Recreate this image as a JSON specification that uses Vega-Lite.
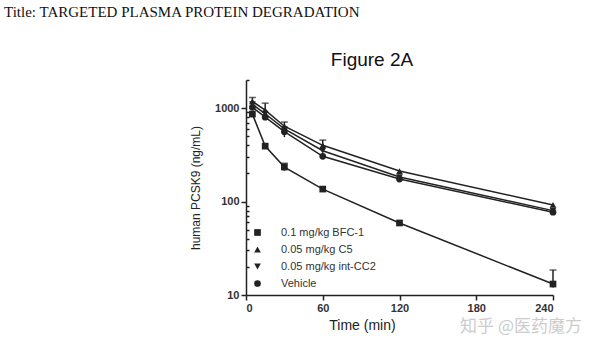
{
  "$schema": "https://vega.github.io/schema/vega-lite/v6.json",
  "width": 307,
  "height": 215,
  "autosize": {"type": "none"},
  "padding": {"left": 246, "top": 80, "right": 47, "bottom": 54},
  "background": "white",
  "title": {
    "text": "Title: TARGETED PLASMA PROTEIN DEGRADATION",
    "anchor": "start",
    "frame": "group",
    "dx": -242,
    "offset": 31,
    "font": "Liberation Serif",
    "fontSize": 15,
    "fontWeight": "normal",
    "color": "#111"
  },
  "config": {
    "view": {"stroke": null},
    "axis": {
      "grid": false,
      "domainColor": "#222",
      "domainWidth": 1.5,
      "tickColor": "#222",
      "tickWidth": 1.5,
      "labelFont": "Liberation Sans",
      "labelFontSize": 11,
      "labelFontWeight": "bold",
      "labelColor": "#333",
      "titleFont": "Liberation Sans",
      "titleColor": "#222",
      "titleFontWeight": "normal"
    },
    "legend": {
      "labelFont": "Liberation Sans",
      "labelFontSize": 11,
      "labelColor": "#333"
    }
  },
  "datasets": {
    "pk": [
      {"series": "0.1 mg/kg BFC-1", "t": 5, "v": 863},
      {"series": "0.1 mg/kg BFC-1", "t": 15, "v": 392},
      {"series": "0.1 mg/kg BFC-1", "t": 30, "v": 234},
      {"series": "0.1 mg/kg BFC-1", "t": 60, "v": 136},
      {"series": "0.1 mg/kg BFC-1", "t": 120, "v": 59},
      {"series": "0.1 mg/kg BFC-1", "t": 240, "v": 13.1},
      {"series": "0.05 mg/kg C5", "t": 5, "v": 1180},
      {"series": "0.05 mg/kg C5", "t": 15, "v": 950},
      {"series": "0.05 mg/kg C5", "t": 30, "v": 640},
      {"series": "0.05 mg/kg C5", "t": 60, "v": 400},
      {"series": "0.05 mg/kg C5", "t": 120, "v": 212},
      {"series": "0.05 mg/kg C5", "t": 240, "v": 92},
      {"series": "0.05 mg/kg int-CC2", "t": 5, "v": 1100},
      {"series": "0.05 mg/kg int-CC2", "t": 15, "v": 870},
      {"series": "0.05 mg/kg int-CC2", "t": 30, "v": 600},
      {"series": "0.05 mg/kg int-CC2", "t": 60, "v": 350},
      {"series": "0.05 mg/kg int-CC2", "t": 120, "v": 183},
      {"series": "0.05 mg/kg int-CC2", "t": 240, "v": 80},
      {"series": "Vehicle", "t": 5, "v": 1020},
      {"series": "Vehicle", "t": 15, "v": 800},
      {"series": "Vehicle", "t": 30, "v": 560},
      {"series": "Vehicle", "t": 60, "v": 305},
      {"series": "Vehicle", "t": 120, "v": 174},
      {"series": "Vehicle", "t": 240, "v": 77}
    ],
    "err": [
      {"series": "0.1 mg/kg BFC-1", "t": 30, "lo": 214, "hi": 257},
      {"series": "0.1 mg/kg BFC-1", "t": 240, "lo": 12, "hi": 18.5},
      {"series": "0.05 mg/kg C5", "t": 5, "lo": 1060, "hi": 1300},
      {"series": "0.05 mg/kg C5", "t": 15, "lo": 800, "hi": 1130},
      {"series": "0.05 mg/kg int-CC2", "t": 30, "lo": 490, "hi": 710},
      {"series": "0.05 mg/kg C5", "t": 60, "lo": 350, "hi": 455}
    ],
    "notes": [
      {"label": "Figure 2A", "t": 98.5, "v": 2000},
      {"label": "知乎 @医药魔方", "t": 215, "v": 10}
    ]
  },
  "layer": [
    {
      "data": {"name": "err"},
      "mark": {"type": "rule", "color": "#222", "strokeWidth": 1.5},
      "encoding": {
        "x": {"field": "t", "type": "quantitative"},
        "y": {"field": "lo", "type": "quantitative"},
        "y2": {"field": "hi"}
      }
    },
    {
      "data": {"name": "err"},
      "mark": {"type": "tick", "orient": "horizontal", "color": "#222", "size": 7, "thickness": 1.5},
      "encoding": {
        "x": {"field": "t", "type": "quantitative"},
        "y": {"field": "hi", "type": "quantitative"}
      }
    },
    {
      "data": {"name": "pk"},
      "mark": {"type": "line", "color": "#222", "strokeWidth": 1.5},
      "encoding": {
        "x": {"field": "t", "type": "quantitative"},
        "y": {"field": "v", "type": "quantitative"},
        "detail": {"field": "series"}
      }
    },
    {
      "data": {"name": "pk"},
      "mark": {"type": "point", "filled": true, "opacity": 1, "size": 45},
      "encoding": {
        "x": {
          "field": "t",
          "type": "quantitative",
          "scale": {"domain": [0, 240], "nice": false, "zero": false},
          "axis": {
            "values": [0, 60, 120, 180, 240],
            "title": "Time (min)",
            "titleFontSize": 14,
            "titleX": 116,
            "titleY": 23,
            "titleAnchor": "middle",
            "tickSize": 5,
            "labelPadding": 2
          }
        },
        "y": {
          "field": "v",
          "type": "quantitative",
          "scale": {"type": "log", "domain": [10, 2000], "nice": false},
          "axis": {
            "values": [10, 20, 30, 40, 50, 60, 70, 80, 90, 100, 200, 300, 400, 500, 600, 700, 800, 900, 1000, 2000],
            "format": "d",
            "labelExpr": "indexof([10,100,1000], datum.value) >= 0 ? datum.label : ''",
            "tickSize": {"condition": {"test": "indexof([10,100,1000], datum.value) >= 0", "value": 5}, "value": -3},
            "title": "human PCSK9 (ng/mL)",
            "titleFontSize": 12,
            "titlePadding": 12,
            "labelPadding": 2
          }
        },
        "shape": {
          "field": "series",
          "type": "nominal",
          "title": null,
          "sort": ["0.1 mg/kg BFC-1", "0.05 mg/kg C5", "0.05 mg/kg int-CC2", "Vehicle"],
          "scale": {
            "domain": ["0.1 mg/kg BFC-1", "0.05 mg/kg C5", "0.05 mg/kg int-CC2", "Vehicle"],
            "range": ["square", "triangle-up", "triangle-down", "circle"]
          },
          "legend": {"orient": "bottom-left", "offset": 6, "symbolSize": 45, "labelOffset": 18, "rowPadding": 5}
        },
        "color": {
          "field": "series",
          "type": "nominal",
          "title": null,
          "sort": ["0.1 mg/kg BFC-1", "0.05 mg/kg C5", "0.05 mg/kg int-CC2", "Vehicle"],
          "scale": {
            "domain": ["0.1 mg/kg BFC-1", "0.05 mg/kg C5", "0.05 mg/kg int-CC2", "Vehicle"],
            "range": ["#222", "#222", "#222", "#222"]
          },
          "legend": {"orient": "bottom-left", "offset": 6, "symbolSize": 45, "labelOffset": 18, "rowPadding": 5}
        }
      }
    },
    {
      "data": {"name": "notes"},
      "transform": [{"filter": "datum.label == 'Figure 2A'"}],
      "mark": {"type": "text", "font": "Liberation Sans", "fontSize": 19, "color": "#111", "dy": -20, "baseline": "middle", "align": "center", "clip": false},
      "encoding": {
        "x": {"field": "t", "type": "quantitative"},
        "y": {"field": "v", "type": "quantitative"},
        "text": {"field": "label"}
      }
    },
    {
      "data": {"name": "notes"},
      "transform": [{"filter": "datum.label != 'Figure 2A'"}],
      "mark": {"type": "text", "font": "Noto Sans CJK SC", "fontSize": 17, "color": "#cccccc", "dy": 32, "baseline": "middle", "align": "center", "clip": false},
      "encoding": {
        "x": {"field": "t", "type": "quantitative"},
        "y": {"field": "v", "type": "quantitative"},
        "text": {"field": "label"}
      }
    }
  ]
}
